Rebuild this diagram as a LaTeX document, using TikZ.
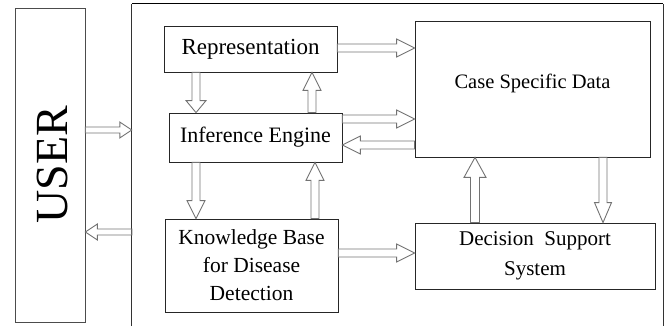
\documentclass[tikz,border=0pt]{standalone}
\usepackage{fontspec}
\setmainfont{Liberation Serif}
\usetikzlibrary{calc}

\tikzset{
  % hollow block arrow: shaft half width / head half width / head length
  blocksize/.code args={#1/#2/#3}{\def\bsw{#1}\def\bhw{#2}\def\bhl{#3}},
  blockarrow/.style={draw=black!55, line width=0.9pt, line join=miter,
    blocksize=4pt/9pt/18pt,
    to path={let \p1=(\tikztostart), \p2=(\tikztotarget),
        \n1={veclen(\x2-\x1,\y2-\y1)},
        \n2={(\x2-\x1)/\n1}, \n3={(\y2-\y1)/\n1} in
      ({\x1-\n3*\bsw},{\y1+\n2*\bsw})
      -- ({\x1+\n2*(\n1-\bhl)-\n3*\bsw},{\y1+\n3*(\n1-\bhl)+\n2*\bsw})
      -- ({\x1+\n2*(\n1-\bhl)-\n3*\bhw},{\y1+\n3*(\n1-\bhl)+\n2*\bhw})
      -- (\p2)
      -- ({\x1+\n2*(\n1-\bhl)+\n3*\bhw},{\y1+\n3*(\n1-\bhl)-\n2*\bhw})
      -- ({\x1+\n2*(\n1-\bhl)+\n3*\bsw},{\y1+\n3*(\n1-\bhl)-\n2*\bsw})
      -- ({\x1+\n3*\bsw},{\y1-\n2*\bsw})
      -- cycle}},
  smallarrow/.style={blockarrow, blocksize=3pt/8pt/12pt},
  box/.style={draw=black!85, line width=0.8pt, inner sep=0pt, align=center,
    font=\fontsize{21.5}{28}\selectfont},
  label text/.style={inner sep=0pt, align=center},
}

\begin{document}
\begin{tikzpicture}[x=1pt, y=-1pt]
  \useasboundingbox (0,0) rectangle (668,326);

  % user side
  \node[draw=black!70, line width=0.8pt, minimum width=70pt, minimum height=314pt,
        inner sep=0pt] (user) at (50,165) {};
  \node[label text, rotate=90, font=\fontsize{46}{46}\selectfont] (usertext)
        at (52.5,164.5) {USER};

  % system frame (open at the bottom)
  \node[minimum width=531pt, minimum height=322pt, inner sep=0pt] (sys) at (397.5,165) {};
  \draw[black!80, line width=0.8pt] (sys.south west) -- (sys.north west);
  \draw[black, line width=1.3pt] (sys.north west) -- (sys.north east);
  \draw[black!80, line width=0.8pt] (sys.north east) -- (sys.south east);

  % components
  \node[box, minimum width=173pt, minimum height=46pt, font=\fontsize{23}{28}\selectfont]
        (rep) at (250.5,49) {Representation};
  \node[box, minimum width=173pt, minimum height=49pt, font=\fontsize{22}{28}\selectfont]
        (ie) at (255.5,137.5) {Inference Engine};
  \node[box, minimum width=173pt, minimum height=93pt] (kb) at (251.5,265.5)
        {Knowledge Base\\for Disease\\Detection};
  \node[box, minimum width=235pt, minimum height=136pt] (csd) at (532.5,89) {};
  \node[label text, font=\fontsize{20.5}{26}\selectfont] (csdtext) at (532.5,83)
        {Case Specific Data};
  \node[box, minimum width=240pt, minimum height=66pt, font=\fontsize{21}{30}\selectfont]
        (dss) at (535,256) {Decision\ \ Support\\System};

  % rows and columns of the connectors
  \coordinate (rowin)  at (0,130);
  \coordinate (rowout) at (0,232);
  \coordinate (rowrep) at (0,48);
  \coordinate (rowie)  at (0,119);
  \coordinate (rowback) at (0,145);
  \coordinate (rowkb)  at (0,253);
  \coordinate (coldown) at (196,0);
  \coordinate (colup)   at (312,0);
  \coordinate (colkbup) at (315,0);
  \coordinate (coldssup) at (475,0);
  \coordinate (colcsddn) at (603,0);

  % connectors
  \draw[smallarrow] (user.east |- rowin) to (sys.west |- rowin);
  \draw[smallarrow] (sys.west |- rowout) to (user.east |- rowout);
  \draw[blockarrow] (rep.east |- rowrep) to (csd.west |- rowrep);
  \draw[blockarrow] (ie.east |- rowie) to (csd.west |- rowie);
  \draw[blockarrow] (csd.west |- rowback) to (ie.east |- rowback);
  \draw[blockarrow, blocksize=4pt/10pt/12pt] (rep.south -| coldown) to (ie.north -| coldown);
  \draw[blockarrow] (ie.north -| colup) to (rep.south -| colup);
  \draw[blockarrow] (ie.south -| coldown) to (kb.north -| coldown);
  \draw[blockarrow] (kb.north -| colkbup) to (ie.south -| colkbup);
  \draw[blockarrow] (kb.east |- rowkb) to (dss.west |- rowkb);
  \draw[blockarrow, blocksize=4.5pt/11pt/20pt] (dss.north -| coldssup) to (csd.south -| coldssup);
  \draw[blockarrow, blocksize=4pt/8.5pt/20pt] (csd.south -| colcsddn) to (dss.north -| colcsddn);
\end{tikzpicture}
\end{document}
